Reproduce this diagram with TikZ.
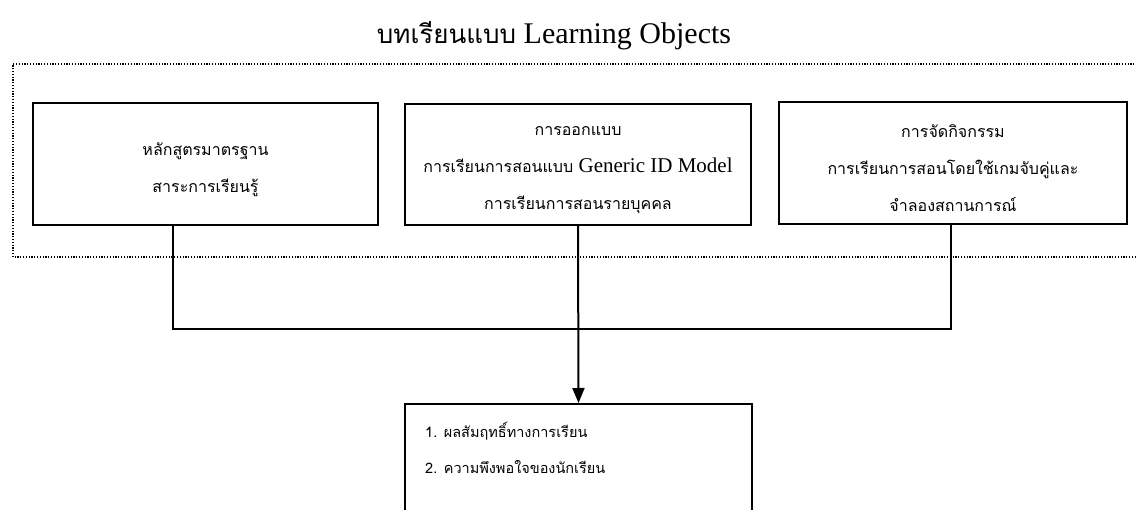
\documentclass[tikz,border=0pt]{standalone}
\usepackage{fontspec}
\setmainfont{Liberation Serif}
\newfontfamily\thai[Script=Thai]{Loma}
\usetikzlibrary{arrows.meta}
\tikzset{
  box/.style={draw=black, line width=2pt, rectangle, inner sep=0pt},
  txt/.style={inner sep=0pt, align=center, font=\thai\fontsize{16}{37}\selectfont},
  conn/.style={draw=black, line width=2pt},
  frame/.style={draw=black, line width=1.2pt, dash pattern=on 1.2pt off 1.6pt},
  lbl/.style={inner sep=0pt, align=left, font=\thai\fontsize{14.5}{36}\selectfont},
}
\begin{document}
\begin{tikzpicture}[x=1pt,y=-1pt]
\clip (0,0) rectangle (1136,510);
\fill[white] (0,0) rectangle (1136,510);
% title
\node[inner sep=0pt, anchor=base, font=\fontsize{30}{34}\selectfont] (title) at (554,44)
  {{\thai\fontsize{26}{30}\selectfont บทเรียนแบบ} Learning Objects};
% dotted frame
\draw[frame] (1140,64) -- (13,64) -- (13,257) -- (1140,257);
% boxes
\node[box, minimum width=345pt, minimum height=122pt] (b1) at (205.5,164) {};
\node[box, minimum width=346pt, minimum height=121pt] (b2) at (578,164.5) {};
\node[box, minimum width=348pt, minimum height=122pt] (b3) at (953,163) {};
\node[box, minimum width=347pt, minimum height=140pt, anchor=north] (b4) at (578.5,403) {};
% texts
\node[txt] (t1) at ([yshift=-6pt]b1.center) {หลักสูตรมาตรฐาน\\สาระการเรียนรู้};
\node[txt] (t2) at ([yshift=-6pt]b2.center)
  {การออกแบบ\\การเรียนการสอนแบบ {\rmfamily\fontsize{21}{37}\selectfont Generic ID Model}\\การเรียนการสอนรายบุคคล};
\node[txt] (t3) at ([yshift=-5pt]b3.center)
  {การจัดกิจกรรม\\การเรียนการสอนโดยใช้เกมจับคู่และ\\จำลองสถานการณ์};
\node[lbl, anchor=north west] (b4t) at (425,422)
  {1. ผลสัมฤทธิ์ทางการเรียน\\2. ความพึงพอใจของนักเรียน};
% connectors
\draw[conn] ([xshift=-32.5pt]b1.south) -- ++(0,103) -| ([xshift=-2pt]b3.south);
\draw[conn, -{Triangle[width=12pt,length=15pt]}] (b2.south) -- (b4.north);
\end{tikzpicture}
\end{document}
